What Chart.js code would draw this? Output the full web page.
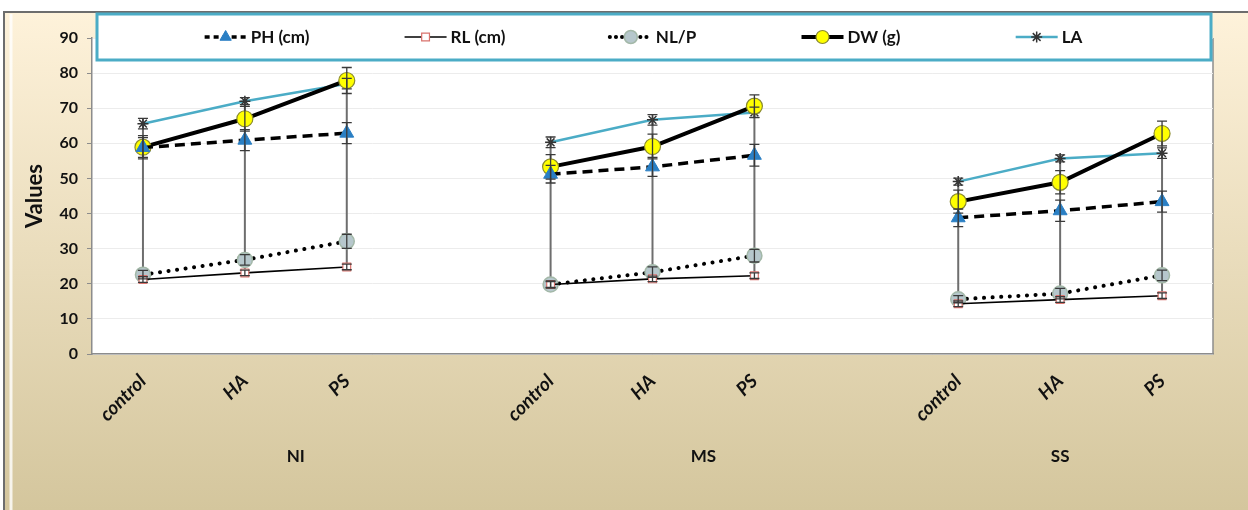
<!DOCTYPE html>
<html>
<head>
<meta charset="utf-8">
<script src="https://cdn.jsdelivr.net/npm/chart.js@4"></script>
<style>
  html, body { margin: 0; padding: 0; background: #fff; }
  canvas { display: block; }
</style>
</head>
<body>
<canvas id="growth_line" width="1248" height="510"></canvas>
<script>
const treatments = ["control", "HA", "PS", "", "control", "HA", "PS", "", "control", "HA", "PS"];
const stressGroups = ["NI", "MS", "SS"];
const groupSpans = [[0, 3], [4, 7], [8, 10]];
const yTicks = [0, 10, 20, 30, 40, 50, 60, 70, 80, 90];

const phValues = [58.8, 60.9, 62.9, null, 51.2, 53.3, 56.6, null, 38.8, 40.8, 43.4];
const rlValues = [21.2, 23.1, 24.8, null, 19.8, 21.4, 22.3, null, 14.3, 15.5, 16.6];
const nlpValues = [22.6, 26.8, 32.1, null, 19.8, 23.3, 28.0, null, 15.6, 17.2, 22.4];
const dwValues = [58.9, 67.0, 77.9, null, 53.3, 59.1, 70.6, null, 43.4, 48.9, 62.8];
const laValues = [65.6, 72.0, 77.0, null, 60.3, 66.7, 68.8, null, 49.1, 55.7, 57.2];

const phErrors = [2.8, 3.0, 3.0, null, 2.5, 2.7, 3.1, null, 2.5, 3.0, 3.0];
const rlErrors = [0.8, 0.8, 0.8, null, 0.8, 0.8, 0.8, null, 0.8, 0.8, 0.8];
const nlpErrors = [1.2, 1.5, 2.0, null, 1.0, 1.5, 1.8, null, 1.0, 1.5, 1.5];
const dwErrors = [3.3, 3.5, 3.7, null, 3.5, 3.5, 3.2, null, 3.3, 3.3, 3.5];
const laErrors = [1.5, 1.0, 1.5, null, 1.5, 1.5, 1.5, null, 1.0, 1.0, 1.5];

const FONT = "Lato";

// page background, gradient frame and white plot area
const backdrop = {
  id: "backdrop",
  beforeDraw(chart) {
    const { ctx, chartArea: a } = chart;
    ctx.save();
    ctx.fillStyle = "#ffffff";
    ctx.fillRect(0, 0, chart.width, chart.height);
    const g = ctx.createLinearGradient(0, 12, 0, chart.height);
    g.addColorStop(0, "#fef2da");
    g.addColorStop(1, "#d4c69d");
    ctx.fillStyle = g;
    ctx.fillRect(4, 12, chart.width - 4, chart.height - 12);
    ctx.strokeStyle = "#6d6d6d";
    ctx.lineWidth = 2;
    ctx.beginPath();
    ctx.moveTo(4, chart.height);
    ctx.lineTo(4, 12);
    ctx.lineTo(chart.width, 12);
    ctx.stroke();
    ctx.strokeStyle = "rgba(255,255,255,0.8)";
    ctx.lineWidth = 3;
    ctx.beginPath();
    ctx.moveTo(11, 14);
    ctx.lineTo(11, chart.height);
    ctx.stroke();
    ctx.fillStyle = "#ffffff";
    ctx.fillRect(a.left, a.top, a.right - a.left, a.bottom - a.top);
    ctx.strokeStyle = "#8c8c8c";
    ctx.lineWidth = 1.5;
    ctx.beginPath();
    ctx.moveTo(a.right, a.top);
    ctx.lineTo(a.right, a.bottom);
    ctx.stroke();
    ctx.restore();
  },
};

// grey high-low lines across every series at each category
const highLow = {
  id: "highLow",
  beforeDatasetsDraw(chart) {
    const { ctx, scales: { x, y } } = chart;
    ctx.save();
    ctx.strokeStyle = "#6e6e6e";
    ctx.lineWidth = 2;
    treatments.forEach((t, i) => {
      const vals = chart.data.datasets.map((d) => d.data[i]).filter((v) => v != null);
      if (!vals.length) return;
      const px = x.getPixelForValue(i);
      ctx.beginPath();
      ctx.moveTo(px, y.getPixelForValue(Math.min(...vals)));
      ctx.lineTo(px, y.getPixelForValue(Math.max(...vals)));
      ctx.stroke();
    });
    ctx.restore();
  },
};

const errorBars = {
  id: "errorBars",
  afterDatasetsDraw(chart) {
    const { ctx, scales: { x, y } } = chart;
    ctx.save();
    ctx.strokeStyle = "#3a3a3a";
    ctx.lineWidth = 1.3;
    chart.data.datasets.forEach((ds) => {
      ds.data.forEach((v, i) => {
        const e = ds.errors[i];
        if (v == null || e == null) return;
        const px = x.getPixelForValue(i);
        const top = y.getPixelForValue(v + e);
        const bot = y.getPixelForValue(v - e);
        ctx.beginPath();
        ctx.moveTo(px, top);
        ctx.lineTo(px, bot);
        ctx.moveTo(px - 5, top);
        ctx.lineTo(px + 5, top);
        ctx.moveTo(px - 5, bot);
        ctx.lineTo(px + 5, bot);
        ctx.stroke();
      });
    });
    ctx.restore();
  },
};

const groupLabels = {
  id: "groupLabels",
  afterDraw(chart) {
    const { ctx, scales: { x } } = chart;
    ctx.save();
    ctx.fillStyle = "#111";
    ctx.font = "bold 17px " + FONT;
    ctx.textAlign = "center";
    ctx.textBaseline = "middle";
    stressGroups.forEach((g, k) => {
      const [s, e] = groupSpans[k];
      const cx = (x.getPixelForValue(s) + x.getPixelForValue(e)) / 2;
      ctx.fillText(g, cx, 457);
    });
    ctx.restore();
  },
};

// Excel-style legend box drawn over the top of the plot
const boxLegend = {
  id: "boxLegend",
  afterDraw(chart) {
    const { ctx } = chart;
    const left = 97, right = 1211, top = 14, bottom = 60;
    const cy = (top + bottom) / 2;
    ctx.save();
    ctx.fillStyle = "#ffffff";
    ctx.fillRect(left, top, right - left, bottom - top);
    ctx.strokeStyle = "#4bacc6";
    ctx.lineWidth = 3;
    ctx.strokeRect(left, top, right - left, bottom - top);
    ctx.font = "bold 17px " + FONT;
    ctx.textBaseline = "middle";
    const slot = 198;
    const first = 257;
    chart.data.datasets.forEach((ds, i) => {
      const textW = ctx.measureText(ds.label).width;
      const sampleW = 42;
      const total = sampleW + 4 + textW;
      const x0 = first + slot * i - total / 2;
      ctx.save();
      ctx.strokeStyle = ds.borderColor;
      ctx.lineWidth = ds.borderWidth;
      ctx.lineCap = ds.borderCapStyle || "butt";
      ctx.setLineDash(ds.legendDash || []);
      ctx.beginPath();
      ctx.moveTo(x0, cy);
      ctx.lineTo(x0 + sampleW, cy);
      ctx.stroke();
      ctx.restore();
      ctx.save();
      ctx.fillStyle = ds.pointBackgroundColor;
      ctx.strokeStyle = ds.pointBorderColor;
      ctx.lineWidth = ds.pointBorderWidth;
      Chart.helpers.drawPoint(ctx, {
        pointStyle: ds.pointStyle,
        radius: Math.min(ds.pointRadius, 6.5),
        rotation: 0,
        borderWidth: ds.pointBorderWidth,
      }, x0 + sampleW / 2, cy);
      ctx.restore();
      ctx.fillStyle = "#111";
      ctx.fillText(ds.label, x0 + sampleW + 4, cy + 1);
    });
    ctx.restore();
  },
};

new Chart(document.getElementById("growth_line"), {
  type: "line",
  data: {
    labels: treatments,
    datasets: [
      {
        label: "PH (cm)",
        data: phValues,
        errors: phErrors,
        borderColor: "#000000",
        borderWidth: 3.5,
        borderDash: [10, 6],
        legendDash: [5, 4],
        pointStyle: "triangle",
        pointRadius: 8,
        pointBackgroundColor: "#2a7fc4",
        pointBorderColor: "#2a7fc4",
        pointBorderWidth: 1,
      },
      {
        label: "RL (cm)",
        data: rlValues,
        errors: rlErrors,
        borderColor: "#000000",
        borderWidth: 1.6,
        pointStyle: "rect",
        pointRadius: 5.5,
        pointBackgroundColor: "#ffffff",
        pointBorderColor: "#d9726c",
        pointBorderWidth: 1.2,
      },
      {
        label: "NL/P",
        data: nlpValues,
        errors: nlpErrors,
        borderColor: "#000000",
        borderWidth: 4,
        borderDash: [0.1, 8.5],
        legendDash: [0.1, 6],
        borderCapStyle: "round",
        pointStyle: "circle",
        pointRadius: 7.5,
        pointBackgroundColor: "#b6c7cc",
        pointBorderColor: "#a3b8a8",
        pointBorderWidth: 1.5,
      },
      {
        label: "DW (g)",
        data: dwValues,
        errors: dwErrors,
        borderColor: "#000000",
        borderWidth: 4,
        pointStyle: "circle",
        pointRadius: 8,
        pointBackgroundColor: "#ffff00",
        pointBorderColor: "#8a8a30",
        pointBorderWidth: 1.2,
      },
      {
        label: "LA",
        data: laValues,
        errors: laErrors,
        borderColor: "#4bacc6",
        borderWidth: 2.5,
        pointStyle: "star",
        pointRadius: 5.5,
        pointBackgroundColor: "#333333",
        pointBorderColor: "#333333",
        pointBorderWidth: 1.5,
      },
    ],
  },
  options: {
    responsive: false,
    animation: false,
    devicePixelRatio: 1,
    spanGaps: false,
    layout: {
      padding: { left: 0, right: 35, top: 38, bottom: 0 },
    },
    scales: {
      x: {
        offset: true,
        afterFit: (scale) => {
          scale.height = 156;
        },
        grid: {
          display: false,
          drawTicks: false,
        },
        border: { display: true, color: "#8c8c8c", width: 1.5 },
        ticks: {
          minRotation: 45,
          maxRotation: 45,
          autoSkip: false,
          padding: 16,
          color: "#111",
          font: { family: FONT, size: 19, weight: "bold", style: "italic" },
        },
      },
      y: {
        min: 0,
        max: 90,
        afterFit: (scale) => {
          scale.width = 92;
        },
        afterBuildTicks: (scale) => {
          scale.ticks = yTicks.map((v) => ({ value: v }));
        },
        grid: {
          color: "#ececec",
          lineWidth: 1,
          tickLength: 5,
          tickColor: "#8c8c8c",
        },
        border: { display: true, color: "#8c8c8c", width: 1.5 },
        ticks: {
          padding: 9,
          color: "#111",
          font: { family: FONT, size: 16, weight: "bold" },
        },
        title: {
          display: true,
          text: "Values",
          color: "#111",
          padding: { top: 22, bottom: 0 },
          font: { family: FONT, size: 22, weight: "bold" },
        },
      },
    },
    plugins: {
      legend: { display: false },
      tooltip: { enabled: false },
    },
  },
  plugins: [backdrop, highLow, errorBars, groupLabels, boxLegend],
});
</script>
</body>
</html>
